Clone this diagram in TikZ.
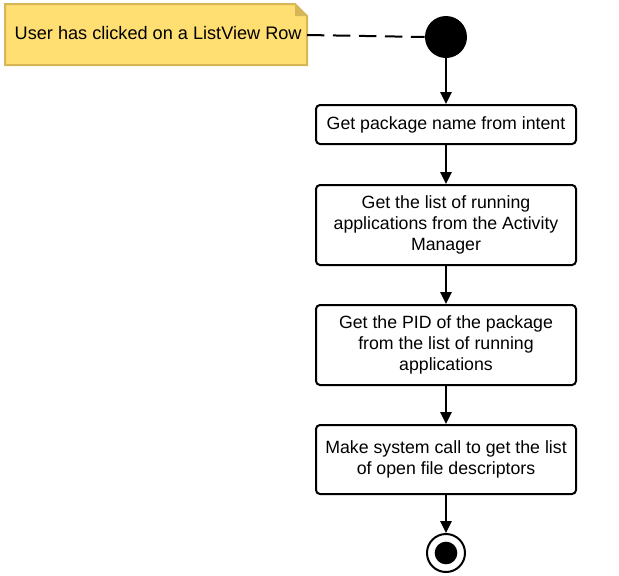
\documentclass[tikz,border=0pt]{standalone}
\usepackage{fontspec}
\setmainfont{Liberation Sans}
\usetikzlibrary{arrows.meta,calc}

\definecolor{notefill}{HTML}{FFDF71}
\definecolor{noteline}{HTML}{D6B656}

\tikzset{
  stepbox/.style={draw, line width=1.5pt, rounded corners=3pt, fill=white,
    minimum width=195pt, align=center,
    font=\fontsize{13.3}{15.75}\selectfont},
  flow/.style={line width=1.5pt, -{Triangle[length=9pt, width=8.5pt]}}
}

\begin{document}
\begin{tikzpicture}[x=0.75pt, y=-0.75pt]
			% frame
			\useasboundingbox (0, 0) rectangle (619, 576);
			% note with folded corner
			\coordinate (NA) at (5, 4);
			\coordinate (NB) at (295, 4);
			\coordinate (NC) at (307, 16);
			\coordinate (ND) at (307, 65);
			\coordinate (NE) at (5, 65);
			\fill[notefill] (NA) -- (NB) -- (NC) -- (ND) -- (NE) --cycle;
			\draw[noteline, line width=1.5pt] (NA) -- (NB) -- (NC) -- (ND) -- (NE) --cycle;
			\fill[noteline] (NB) -- (NC) -- (295, 16) --cycle;
			\node[anchor=west, font=\fontsize{13.6}{15.75}\selectfont] (note) at (10, 33) {User has clicked on a ListView Row};
			\coordinate (noteright) at (307, 35);

			% start and end
			\node[circle, fill=black, minimum size=31.5pt, inner sep=0pt] (start) at (446, 37) {};
			\node[circle, draw, line width=1.5pt, minimum size=28.5pt, inner sep=0pt] (stop) at (446, 553) {};
			\node[circle, fill=black, minimum size=17pt, inner sep=0pt] (stopdot) at (stop) {};

			% activity steps
			\node[stepbox, minimum height=29.25pt] (intent) at (446, 124.5) {Get package name from intent};
			\node[stepbox, minimum height=60pt] (running) at (446, 225) {Get the list of running\\applications from the Activity\\Manager};
			\node[stepbox, minimum height=60pt] (pid) at (446, 345) {Get the PID of the package\\from the list of running\\applications};
			\node[stepbox, minimum height=51.75pt] (syscall) at (446, 459.5) {Make system call to get the list\\of open file descriptors};

			% connectors
			\draw[flow] (start) -- (intent);
			\draw[flow] (intent) -- (running);
			\draw[flow] (running) -- (pid);
			\draw[flow] (pid) -- (syscall);
			\draw[flow] (syscall) -- (stop);
			\draw[line width=1.5pt, dash pattern=on 13pt off 6.5pt] (noteright) -- (start.west);
		\end{tikzpicture}
\end{document}
